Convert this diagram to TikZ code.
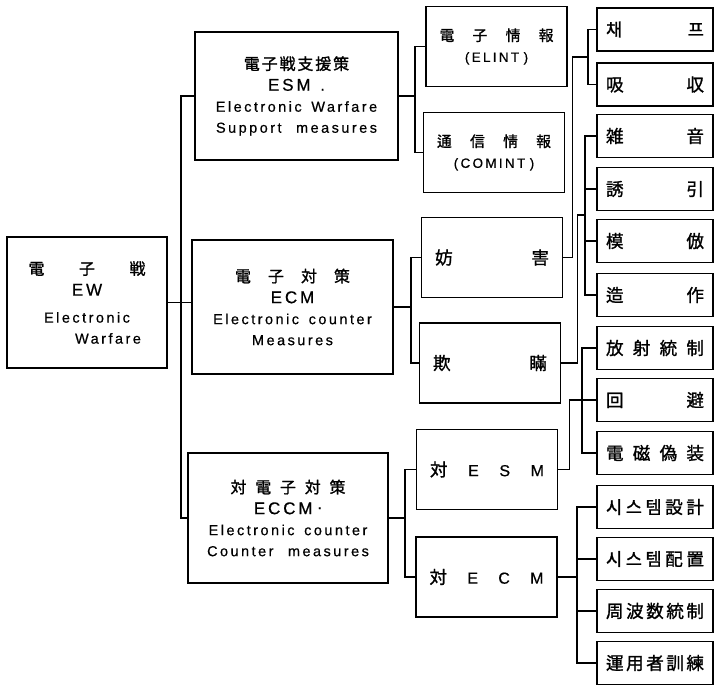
\documentclass[tikz,border=0pt]{standalone}
\usepackage{fontspec}
\setmainfont{Liberation Sans}[LetterSpace=17,FakeBold=0.5]
\newfontfamily\kr{Noto Sans CJK KR}[Scale=1.1,LetterSpace=12,FakeBold=1.2]
\usepackage{tikz}
\usetikzlibrary{calc}

\tikzset{
  box/.style={draw, line width=1.3pt, inner sep=0pt, align=center},
  lvone/.style={box, font=\fontsize{14.5}{21}\selectfont},
  lvtwo/.style={box, font=\fontsize{16}{20}\selectfont, minimum width=141pt, minimum height=80pt, text width=114pt},
  small/.style={font=\fontsize{13.5}{21}\selectfont},
  lvthree/.style={box, font=\fontsize{16}{20}\selectfont, minimum width=116pt, minimum height=43pt, text width=98pt},
  link/.style={line width=1.3pt}
}
\newcommand{\acro}[1]{{\fontsize{17}{21}\selectfont #1}}

\begin{document}
\begin{tikzpicture}[x=1pt,y=-1pt]
    \useasboundingbox (0,0) rectangle (715,689);
    % first and second level
    \node[lvone, minimum width=160pt, minimum height=131pt, text width=117pt] (EW) at (87,302.5)
      {{\kr 電\hfill 子\hfill 戦}\\ \acro{EW}\hspace*{20pt}\\[6pt] Electronic\hspace*{26pt}\\ \hspace*{42pt}Warfare};
    \node[lvone, minimum width=203pt, minimum height=128pt, text width=190pt] (ESM) at (296.5,96)
      {{\kr 電子戦支援策}\\ \acro{ESM\ \ .}\\ Electronic\ \ Warfare\\ Support\ \ \ measures};
    \node[lvone, minimum width=201pt, minimum height=134pt, text width=190pt] (ECM) at (292.5,307)
      {\makebox[115pt]{\kr 電\hfill 子\hfill 対\hfill 策}\\ \acro{ECM}\\ Electronic\ \ counter\\ Measures};
    \node[lvone, minimum width=200pt, minimum height=130pt, text width=190pt] (ECCM) at (288,518)
      {\makebox[115pt]{\kr 対\hfill 電\hfill 子\hfill 対\hfill 策}\\ \acro{ECCM\ \raisebox{5pt}{.}}\\ Electronic\ \ counter\\ Counter\ \ \ measures};
    % third level
    \node[lvtwo, small] (ELINT) at (496.5,46.5) {{\kr 電\hfill 子\hfill 情\hfill 報}\\ (ELINT\ )};
    \node[lvtwo, small] (COMINT) at (494,152.5) {{\kr 通\hfill 信\hfill 情\hfill 報}\\ (COMINT\ )};
    \node[lvtwo] (JAM) at (492,257.5) {{\kr 妨}\hfill{\kr 害}};
    \node[lvtwo] (DEC) at (490,363) {{\kr 欺}\hfill{\kr 瞞}};
    \node[lvtwo] (CESM) at (487,469.5) {{\kr 対}\hfill E\hfill S\hfill M};
    \node[lvtwo] (CECM) at (486.5,577) {{\kr 対}\hfill E\hfill C\hfill M};
    % fourth level
    \node[lvthree] (CHAFF) at (655,29.5) {{\kr 채}\hfill{\kr 프}};
    \node[lvthree] (ABS) at (655,84.5) {{\kr 吸}\hfill{\kr 収}};
    \node[lvthree] (NOISE) at (655,136) {{\kr 雑}\hfill{\kr 音}};
    \node[lvthree] (LURE) at (655,189) {{\kr 誘}\hfill{\kr 引}};
    \node[lvthree] (IMIT) at (655,241) {{\kr 模}\hfill{\kr 倣}};
    \node[lvthree] (MANIP) at (655,295) {{\kr 造}\hfill{\kr 作}};
    \node[lvthree] (EMCON) at (655,348) {{\kr 放\hfill 射\hfill 統\hfill 制}};
    \node[lvthree] (AVOID) at (655,400) {{\kr 回}\hfill{\kr 避}};
    \node[lvthree] (CAMO) at (655,453) {{\kr 電\hfill 磁\hfill 偽\hfill 装}};
    \node[lvthree] (SYSD) at (655,507) {{\kr 시\hfill 스\hfill 템\hfill 設\hfill 計}};
    \node[lvthree] (SYSP) at (655,559) {{\kr 시\hfill 스\hfill 템\hfill 配\hfill 置}};
    \node[lvthree] (FREQ) at (655,611) {{\kr 周\hfill 波\hfill 数\hfill 統\hfill 制}};
    \node[lvthree] (TRAIN) at (655,663) {{\kr 運\hfill 用\hfill 者\hfill 訓\hfill 練}};

    % links from EW
    \coordinate (t0) at (181,0);
    \draw[link] (EW.east) -- (EW.east -| ECM.west);
    \draw[link] (ESM.west) -| (t0 |- ECCM.west) -- (ECCM.west);
    % links to the second column
    \coordinate (t1) at (415,0);
    \draw[link] (ESM.east) -- (ESM.east -| t1);
    \draw[link] (ELINT.west) -| (t1 |- COMINT.west) -- (COMINT.west);
    \coordinate (t2) at (411,0);
    \draw[link] (ECM.east) -- (ECM.east -| t2);
    \draw[link] (JAM.west) -| (t2 |- DEC.west) -- (DEC.west);
    \coordinate (t3) at (405,0);
    \draw[link] (ECCM.east) -- (ECCM.east -| t3);
    \draw[link] (CESM.west) -| (t3 |- CECM.west) -- (CECM.west);
    % links to the third column
    \coordinate (b1) at (588,57);
    \draw[link] (JAM.east) -- ++(9,0) |- (b1);
    \draw[link] (CHAFF.west) -| (b1) |- (ABS.west);
    \coordinate (b2) at (585,215);
    \draw[link] (DEC.east) -- ++(16,0) |- (b2);
    \draw[link] (NOISE.west) -| (b2) |- (MANIP.west);
    \draw[link] (LURE.west) -- (LURE.west -| b2);
    \draw[link] (IMIT.west) -- (IMIT.west -| b2);
    \coordinate (b3) at (582,400);
    \draw[link] (CESM.east) -- ++(11,0) |- (AVOID.west);
    \draw[link] (EMCON.west) -| (b3) |- (CAMO.west);
    \coordinate (b4) at (577,585);
    \draw[link] (CECM.east) -- (CECM.east -| b4);
    \draw[link] (SYSD.west) -| (b4) |- (TRAIN.west);
    \draw[link] (SYSP.west) -- (SYSP.west -| b4);
    \draw[link] (FREQ.west) -- (FREQ.west -| b4);
\end{tikzpicture}
\end{document}
